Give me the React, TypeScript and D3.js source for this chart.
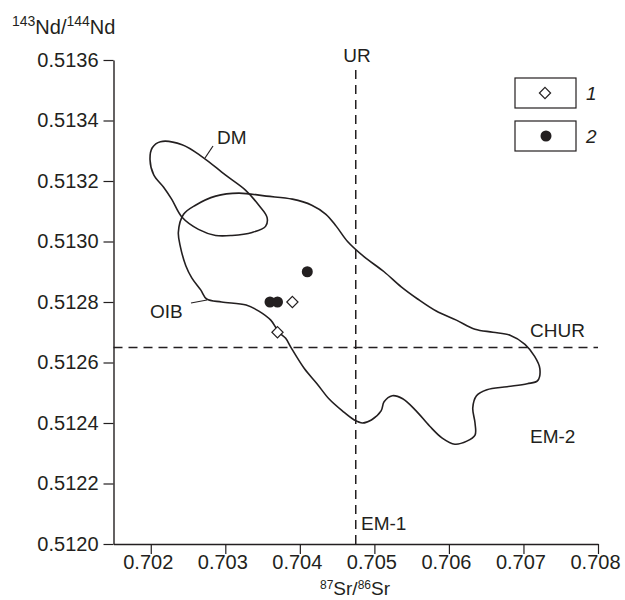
import React, { useEffect, useRef } from 'react';
import * as d3 from 'd3';

// Axis ticks
const srTicks = [0.702, 0.703, 0.704, 0.705, 0.706, 0.707, 0.708];
const ndTicks = [0.512, 0.5122, 0.5124, 0.5126, 0.5128, 0.513, 0.5132, 0.5134, 0.5136];

// DM field outline (87Sr/86Sr, 143Nd/144Nd)
const dmSr = [0.70213, 0.70242, 0.70269, 0.703, 0.70327, 0.70345, 0.70356, 0.70354, 0.70336,
    0.70309, 0.70287, 0.70264, 0.70242, 0.70228, 0.70217, 0.70204, 0.70199, 0.70202];
const dmNd = [0.51333, 0.51332, 0.51328, 0.51322, 0.51317, 0.51312, 0.51308, 0.51305, 0.51303,
    0.51302, 0.51302, 0.51304, 0.51308, 0.51314, 0.51318, 0.51322, 0.51327, 0.51331];

// OIB field outline
const oibSr = [0.70237, 0.70244, 0.7026, 0.70287, 0.70318, 0.70355, 0.7039, 0.70416, 0.70435, 0.70449,
    0.70464, 0.70486, 0.70513, 0.70536, 0.70558, 0.70583, 0.7061, 0.70635, 0.70659, 0.70682,
    0.70702, 0.70715, 0.70722, 0.70719, 0.70705, 0.70678, 0.70651, 0.70637, 0.70632, 0.70635,
    0.70635, 0.70624, 0.70608, 0.70591, 0.70574, 0.70556, 0.70538, 0.70524, 0.70513, 0.70509,
    0.70496, 0.70484, 0.70473, 0.70457, 0.70439, 0.70423, 0.70406, 0.70388, 0.70381, 0.70372,
    0.70361, 0.70345, 0.70328, 0.70295, 0.70275, 0.70267, 0.70255, 0.70247, 0.7024];
const oibNd = [0.51303, 0.51309, 0.51312, 0.51315, 0.51316, 0.51315, 0.51314, 0.51312, 0.51309, 0.51305,
    0.513, 0.51295, 0.5129, 0.51285, 0.51281, 0.51277, 0.51274, 0.51271, 0.5127, 0.51269,
    0.51266, 0.51262, 0.51258, 0.51254, 0.51253, 0.51252, 0.51251, 0.51249, 0.51245, 0.5124,
    0.51236, 0.51234, 0.51233, 0.51235, 0.51239, 0.51244, 0.51248, 0.51249, 0.51247, 0.51244,
    0.51241, 0.5124, 0.51241, 0.51244, 0.51248, 0.51253, 0.51258, 0.51265, 0.51268, 0.5127,
    0.51274, 0.51277, 0.51279, 0.5128, 0.51281, 0.51284, 0.51288, 0.51292, 0.51298];

// Samples: 1 = open diamonds, 2 = filled circles
const set1Sr = [0.7039, 0.7037];
const set1Nd = [0.5128, 0.5127];
const set2Sr = [0.7041, 0.7036, 0.7037];
const set2Nd = [0.5129, 0.5128, 0.5128];

// Reference lines
const urSr = 0.70475;
const churNd = 0.51265;

const App = () => {
    const svgRef = useRef<SVGSVGElement>(null);

    useEffect(() => {
        const svg = d3.select(svgRef.current);
        svg.selectAll('*').remove();

        const ink = '#231f20';
        const font = '"Liberation Sans", Arial, sans-serif';

        const x = d3.scaleLinear().domain([0.7015, 0.708]).range([113.5, 598]);
        const y = d3.scaleLinear().domain([0.512, 0.5136]).range([544, 60]);

        // Axes
        const gx = svg.append('g')
            .attr('transform', `translate(0,${y(0.512)})`)
            .call(d3.axisBottom(x).tickValues(srTicks).tickSize(10).tickSizeOuter(0)
                .tickPadding(1).tickFormat(d3.format('.3f')));
        const gy = svg.append('g')
            .attr('transform', `translate(${x(0.7015)},0)`)
            .call(d3.axisLeft(y).tickValues(ndTicks).tickSize(10).tickSizeOuter(0)
                .tickPadding(5).tickFormat(d3.format('.4f')));
        [gx, gy].forEach(g => {
            g.select('.domain').attr('stroke', ink).attr('stroke-width', 1.4);
            g.selectAll('.tick line').attr('stroke', ink).attr('stroke-width', 1.2);
            g.selectAll('.tick text').attr('fill', ink).attr('font-size', 20).attr('font-family', font);
        });
        gx.selectAll('.tick text').attr('dx', -3);

        // Axis titles with superscripts
        const yTitle = svg.append('text').attr('x', 12).attr('y', 34)
            .attr('font-family', font).attr('font-size', 20).attr('fill', ink);
        yTitle.append('tspan').attr('font-size', 14).attr('dy', -8).text('143');
        yTitle.append('tspan').attr('dy', 8).text('Nd/');
        yTitle.append('tspan').attr('font-size', 14).attr('dy', -8).text('144');
        yTitle.append('tspan').attr('dy', 8).text('Nd');

        const xTitle = svg.append('text').attr('x', 355).attr('y', 595)
            .attr('text-anchor', 'middle')
            .attr('font-family', font).attr('font-size', 19).attr('fill', ink);
        xTitle.append('tspan').attr('font-size', 12).attr('dy', -6).text('87');
        xTitle.append('tspan').attr('dy', 6).text('Sr/');
        xTitle.append('tspan').attr('font-size', 12).attr('dy', -6).text('86');
        xTitle.append('tspan').attr('dy', 6).text('Sr');

        // UR and CHUR dashed lines
        svg.append('line')
            .attr('x1', x(urSr)).attr('x2', x(urSr))
            .attr('y1', 70).attr('y2', y(0.512))
            .attr('stroke', ink).attr('stroke-width', 1.5).attr('stroke-dasharray', '9,6');
        svg.append('line')
            .attr('x1', x(0.7015)).attr('x2', x(0.708))
            .attr('y1', y(churNd)).attr('y2', y(churNd))
            .attr('stroke', ink).attr('stroke-width', 1.5).attr('stroke-dasharray', '9,6');

        // Field outlines
        const outline = (xs: number[], ys: number[]) => d3.line<number>()
            .x(i => x(xs[i]))
            .y(i => y(ys[i]))
            .curve(d3.curveCatmullRomClosed.alpha(0.5))(d3.range(xs.length));

        svg.append('path').attr('d', outline(dmSr, dmNd))
            .attr('fill', 'none').attr('stroke', ink).attr('stroke-width', 1.6);
        svg.append('path').attr('d', outline(oibSr, oibNd))
            .attr('fill', 'none').attr('stroke', ink).attr('stroke-width', 1.6);

        // Field labels with leaders
        svg.append('line').attr('x1', 205).attr('y1', 158).attr('x2', 213).attr('y2', 146)
            .attr('stroke', ink).attr('stroke-width', 1.2);
        svg.append('line').attr('x1', 191).attr('y1', 303).attr('x2', 207).attr('y2', 300)
            .attr('stroke', ink).attr('stroke-width', 1.2);

        const labels = [
            { t: 'DM', x: 217, y: 144, a: 'start' },
            { t: 'OIB', x: 150, y: 318, a: 'start' },
            { t: 'UR', x: 357, y: 62, a: 'middle' },
            { t: 'CHUR', x: 530, y: 337, a: 'start' },
            { t: 'EM-2', x: 530, y: 443, a: 'start' },
            { t: 'EM-1', x: 361, y: 530, a: 'start' },
        ];
        svg.selectAll('.lbl').data(labels).enter().append('text')
            .attr('class', 'lbl')
            .attr('x', d => d.x).attr('y', d => d.y)
            .attr('text-anchor', d => d.a)
            .attr('font-family', font).attr('font-size', 19).attr('fill', ink)
            .text(d => d.t);

        // Sample symbols
        const diamond = d3.symbol().type(d3.symbolDiamond2).size(80);
        svg.selectAll('.s2').data(d3.range(set2Sr.length)).enter().append('circle')
            .attr('cx', i => x(set2Sr[i])).attr('cy', i => y(set2Nd[i]))
            .attr('r', 5.5).attr('fill', ink);
        svg.selectAll('.s1').data(d3.range(set1Sr.length)).enter().append('path')
            .attr('d', diamond)
            .attr('transform', i => `translate(${x(set1Sr[i])},${y(set1Nd[i])})`)
            .attr('fill', 'white').attr('stroke', ink).attr('stroke-width', 1.2);

        // Legend
        const legend = svg.append('g');
        [0, 1].forEach(k => {
            const top = 78 + k * 43;
            legend.append('rect').attr('x', 515).attr('y', top).attr('width', 61).attr('height', 30)
                .attr('fill', 'white').attr('stroke', ink).attr('stroke-width', 1.2);
            legend.append('text').attr('x', 586).attr('y', top + 22)
                .attr('font-family', font).attr('font-size', 19).attr('font-style', 'italic')
                .attr('fill', ink).text(String(k + 1));
        });
        legend.append('path').attr('d', diamond)
            .attr('transform', 'translate(545,93)')
            .attr('fill', 'white').attr('stroke', ink).attr('stroke-width', 1.2);
        legend.append('circle').attr('cx', 546).attr('cy', 136).attr('r', 5.5).attr('fill', ink);
    }, []);

    return (
        <svg ref={svgRef} width={625} height={600}
            style={{ position: 'absolute', left: 0, top: 0, background: '#fff' }} />
    );
};

export default App;
